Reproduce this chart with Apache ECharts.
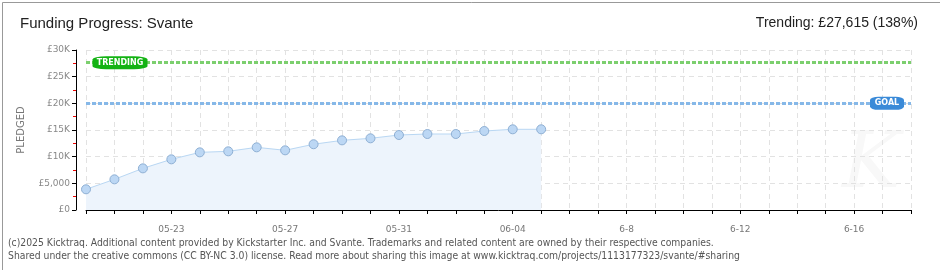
<!DOCTYPE html>
<html><head><meta charset="utf-8">
<script src="https://cdn.jsdelivr.net/npm/echarts@6/dist/echarts.min.js"></script>
<style>html,body{margin:0;padding:0;background:#fff}#c{width:940px;height:270px}</style>
</head><body><div id="c"></div>
<script>
const categories = ['05-20','05-21','05-22','05-23','05-24','05-25','05-26','05-27','05-28','05-29','05-30','05-31','06-01','06-02','06-03','06-04','06-05','6-6','6-7','6-8','6-9','6-10','6-11','6-12','6-13','6-14','6-15','6-16','6-17','6-18'];
const pledged = [3880,5750,7810,9500,10810,11000,11750,11190,12330,13060,13440,14060,14250,14250,14810,15130,15130];
const goal = 20000;
const trending = 27615;
const yTicks = {0:'£0',5000:'£5,000',10000:'£10K',15000:'£15K',20000:'£20K',25000:'£25K',30000:'£30K'};
const title = 'Funding Progress: Svante';
const trendText = 'Trending: £27,615 (138%)';
const footer1 = '(c)2025 Kicktraq. Additional content provided by Kickstarter Inc. and Svante. Trademarks and related content are owned by their respective companies.';
const footer2 = 'Shared under the creative commons (CC BY-NC 3.0) license. Read more about sharing this image at www.kicktraq.com/projects/1113177323/svante/#sharing';

const chart = echarts.init(document.getElementById('c'), null, {renderer:'canvas'});
const lab = '"DejaVu Sans", sans-serif';
chart.setOption({
  animation:false,
  backgroundColor:'#fff',
  grid:{left:86,right:29,top:50,bottom:60},
  title:[
    {text:title,left:20,top:16,padding:0,textStyle:{fontFamily:'"Liberation Sans", sans-serif',fontWeight:'normal',fontSize:15,color:'#222'}},
    {text:trendText,right:22,top:16,padding:0,textStyle:{fontFamily:'"Liberation Sans", sans-serif',fontWeight:'normal',fontSize:14,color:'#222'}}
  ],
  graphic:[
    {type:'rect',left:0,top:0,shape:{width:939,height:268},style:{fill:'none',stroke:'#999',lineWidth:1},silent:true,z:-1},
    {type:'text',left:8,top:238,style:{text:footer1,font:'10.3px "DejaVu Sans Condensed", sans-serif',fill:'#555'}},
    {type:'text',left:8,top:251,style:{text:footer2,font:'10.3px "DejaVu Sans Condensed", sans-serif',fill:'#555'}},
    {type:'text',left:842,top:128,style:{text:'K',font:'italic 78px "DejaVu Serif", serif',fill:'#f8f8f8'},z:0}
  ],
  xAxis:{
    type:'category',data:categories,boundaryGap:false,offset:10,
    axisLine:{lineStyle:{color:'#000',width:1}},
    axisTick:{show:true,interval:0,length:4,lineStyle:{color:'#000'}},
    axisLabel:{interval:(i)=>i%4===3,color:'#777',fontSize:9,fontFamily:lab,margin:5},
    splitLine:{show:true,interval:0,lineStyle:{color:'#e2e2e2',type:[5,4]}}
  },
  yAxis:{
    type:'value',min:0,max:30000,interval:5000,offset:10,
    name:'PLEDGED',nameLocation:'middle',nameGap:50,nameRotate:90,
    nameTextStyle:{color:'#777',fontSize:10,fontFamily:lab},
    axisLine:{show:true,lineStyle:{color:'#000'}},
    axisTick:{show:true,length:4,lineStyle:{color:'#000'}},
    minorTick:{show:true,splitNumber:2,length:3,lineStyle:{color:'#e00'}},
    axisLabel:{formatter:(v)=>yTicks[v]||'',color:'#888',fontSize:9,fontFamily:lab,margin:6},
    splitLine:{show:true,lineStyle:{color:'#e2e2e2',type:[5,4]}}
  },
  series:[
    {
      type:'line',data:pledged,symbol:'circle',symbolSize:9,
      lineStyle:{color:'#b9d7f3',width:1},
      itemStyle:{color:'#bcd7f4',borderColor:'#8fb0d4',borderWidth:1},
      areaStyle:{color:'#edf4fc',opacity:1},
      z:3,
      markLine:{
        silent:true,symbol:'none',label:{show:false},
        data:[
          {yAxis:trending,lineStyle:{color:'#7ccf6e',width:3,type:[4,2]}},
          {yAxis:goal,lineStyle:{color:'#86b8e8',width:3,type:[4,2]}}
        ]
      },
      markPoint:{
        silent:true,
        data:[
          {coord:[0,trending],symbol:'roundRect',symbolSize:[55,13],symbolOffset:[34,0],
           itemStyle:{color:'#14b314'},
           label:{show:true,formatter:'TRENDING',color:'#fff',fontSize:8,fontFamily:lab,fontWeight:'bold'}},
          {coord:[categories.length-1,goal],symbol:'roundRect',symbolSize:[34,13],symbolOffset:[-24,0],
           itemStyle:{color:'#3a8ad8'},
           label:{show:true,formatter:'GOAL',color:'#fff',fontSize:8,fontFamily:lab,fontWeight:'bold'}}
        ]
      }
    }
  ]
});
</script></body></html>
